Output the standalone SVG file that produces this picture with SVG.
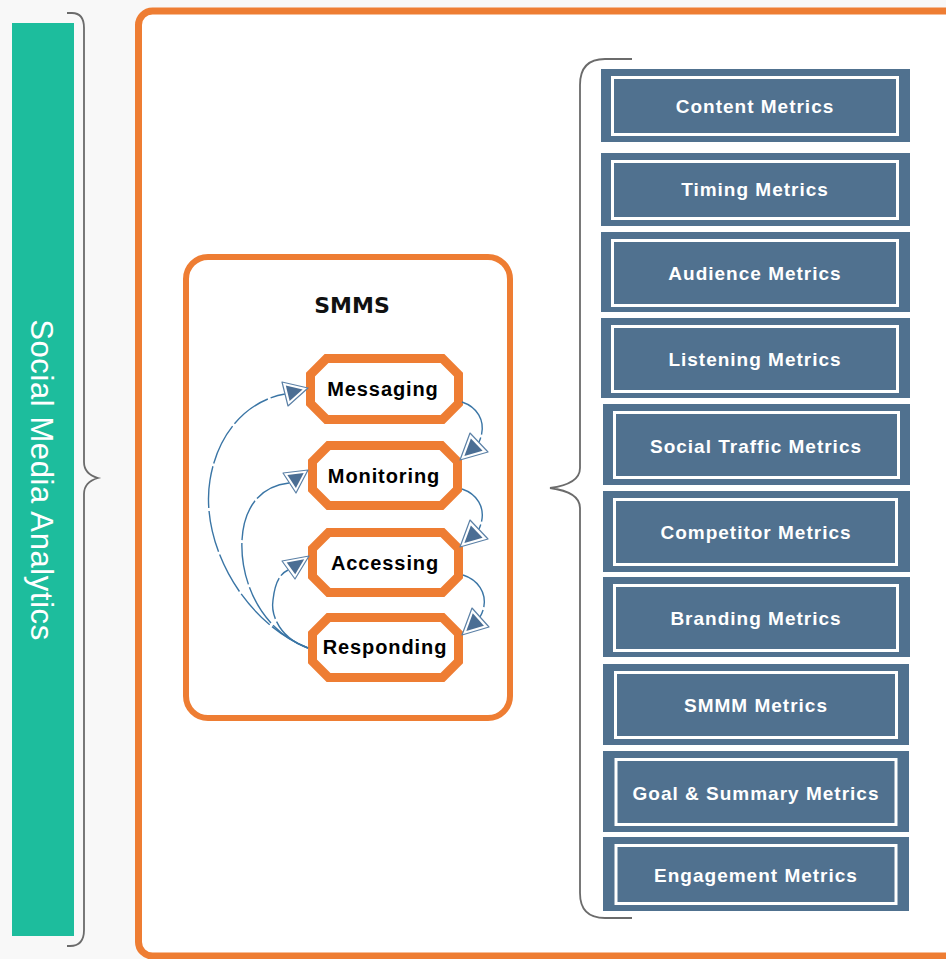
<svg xmlns="http://www.w3.org/2000/svg" width="946" height="959" viewBox="0 0 946 959">
<style>
.brace{fill:none;stroke:#6b6b6b;stroke-width:1.8}
.mout{fill:#50718f}
.min{fill:#50718f;stroke:#ffffff;stroke-width:3}
.mtxt{font-family:"Liberation Sans",Arial,sans-serif;font-size:19px;font-weight:bold;fill:#ffffff;text-anchor:middle;letter-spacing:1px}
.oct{fill:#ffffff;stroke:#ee7d33;stroke-width:9;stroke-linejoin:miter}
.otxt{font-family:"Liberation Sans",Arial,sans-serif;font-size:20px;font-weight:bold;fill:#000000;text-anchor:middle;letter-spacing:0.9px}
.conn{fill:none;stroke:#3a75a5;stroke-width:1.4;stroke-dasharray:42 3}
.ahO{fill:#ffffff;stroke:#5b80a6;stroke-width:1.2;stroke-linejoin:round}
.ahI{fill:#4b6e94}
</style>
<rect x="0" y="0" width="946" height="959" fill="#f8f8f8"/>

<g id="analytics">
<rect x="12" y="23" width="62" height="913" fill="#1dbd9d"/>
<text transform="translate(31,480) rotate(90)" text-anchor="middle" font-family="Liberation Sans, Arial, sans-serif" font-size="31" fill="#ffffff" letter-spacing="0.6">Social Media Analytics</text>
</g>

<g id="left-brace">
<path class="brace" d="M67,13 L72,13 Q84,13 84,28 L84,462 Q84,474 98,478 Q84,482 84,494 L84,930 Q84,946 70,946 L67,946"/>
</g>

<g id="main-frame">
<rect x="138.5" y="11" width="830" height="945" rx="14" ry="14" fill="#ffffff" stroke="#ee7d33" stroke-width="7"/>
</g>

<g id="smms">
<rect x="186" y="257" width="324" height="461" rx="22" ry="22" fill="#ffffff" stroke="#ee7d33" stroke-width="6"/>
<text x="352" y="313" text-anchor="middle" font-family="DejaVu Sans, sans-serif" font-size="22" font-weight="bold" fill="#111111">SMMS</text>
</g>

<g id="messaging">
<path class="oct" d="M326.5,358.5 L442.5,358.5 L458.5,374.5 L458.5,403.5 L442.5,419.5 L326.5,419.5 L310.5,403.5 L310.5,374.5 Z"/>
<text class="otxt" x="383" y="396">Messaging</text>
</g>
<g id="monitoring">
<path class="oct" d="M328.5,445.5 L441.5,445.5 L457.5,461.5 L457.5,489.5 L441.5,505.5 L328.5,505.5 L312.5,489.5 L312.5,461.5 Z"/>
<text class="otxt" x="384" y="483">Monitoring</text>
</g>
<g id="accessing">
<path class="oct" d="M328.5,532.5 L442.5,532.5 L458.5,548.5 L458.5,576.5 L442.5,592.5 L328.5,592.5 L312.5,576.5 L312.5,548.5 Z"/>
<text class="otxt" x="385" y="570">Accessing</text>
</g>
<g id="responding">
<path class="oct" d="M328.5,617.5 L442.5,617.5 L458.5,633.5 L458.5,661.5 L442.5,677.5 L328.5,677.5 L312.5,661.5 L312.5,633.5 Z"/>
<text class="otxt" x="385" y="654">Responding</text>
</g>

<g id="connectors">
<path class="conn" d="M462,402 C480,408 487,425 479,442"/>
<polygon class="ahO" points="460,460 470,433 488,452"/>
<polygon class="ahI" points="464.4,455.9 470.9,438.4 482.6,450.7"/>

<path class="conn" d="M462,489 C480,495 487,512 479,529"/>
<polygon class="ahO" points="460,547 470,520 488,539"/>
<polygon class="ahI" points="464.4,542.9 470.9,525.4 482.6,537.7"/>

<path class="conn" d="M463,575 C482,581 490,600 480,617"/>
<polygon class="ahO" points="462,635 472,608 489,627"/>
<polygon class="ahI" points="466.3,630.9 472.8,613.3 483.9,625.7"/>

<path class="conn" d="M308,648 C240,620 200,540 210,480 C218,430 250,400 285,394"/>
<polygon class="ahO" points="308,388 282,382 288,406"/>
<polygon class="ahI" points="302.6,389.4 285.8,385.5 289.6,401.1"/>

<path class="conn" d="M308,648 C260,630 240,580 242,540 C244,505 262,486 289,483"/>
<polygon class="ahO" points="308,470 283,473 296,493"/>
<polygon class="ahI" points="303.7,473 287.4,474.9 295.9,487.9"/>

<path class="conn" d="M308,648 C285,640 270,620 273,600 C275,582 280,574 288,570"/>
<polygon class="ahO" points="309,556 282,561 295,579"/>
<polygon class="ahI" points="304.2,559.3 286.7,562.5 295.2,574.2"/>
</g>

<g id="right-brace">
<path class="brace" d="M632,59 L605,59 Q580,59 580,85 L580,468 Q580,484 550,488 Q580,492 580,508 L580,893 Q580,918 605,918 L632,918"/>
</g>

<g id="content-metrics">
<rect class="mout" x="601" y="69" width="309" height="73"/>
<rect class="min" x="612.5" y="77.5" width="285" height="57"/>
<text class="mtxt" x="755" y="113">Content Metrics</text>
</g>
<g id="timing-metrics">
<rect class="mout" x="601" y="153" width="309" height="73"/>
<rect class="min" x="612.5" y="161.5" width="285" height="57"/>
<text class="mtxt" x="755" y="196">Timing Metrics</text>
</g>
<g id="audience-metrics">
<rect class="mout" x="601" y="232" width="309" height="80"/>
<rect class="min" x="612.5" y="240.5" width="285" height="65"/>
<text class="mtxt" x="755" y="280">Audience Metrics</text>
</g>
<g id="listening-metrics">
<rect class="mout" x="601" y="318" width="309" height="80"/>
<rect class="min" x="612.5" y="326.5" width="285" height="65"/>
<text class="mtxt" x="755" y="366">Listening Metrics</text>
</g>
<g id="social-traffic-metrics">
<rect class="mout" x="603" y="404" width="307" height="81"/>
<rect class="min" x="614.5" y="412.5" width="284" height="65"/>
<text class="mtxt" x="756" y="453">Social Traffic Metrics</text>
</g>
<g id="competitor-metrics">
<rect class="mout" x="603" y="491" width="307" height="81"/>
<rect class="min" x="614.5" y="499.5" width="282" height="65"/>
<text class="mtxt" x="756" y="539">Competitor Metrics</text>
</g>
<g id="branding-metrics">
<rect class="mout" x="603" y="577" width="307" height="80"/>
<rect class="min" x="614.5" y="585.5" width="283" height="65"/>
<text class="mtxt" x="756" y="625">Branding Metrics</text>
</g>
<g id="smmm-metrics">
<rect class="mout" x="603" y="664" width="306" height="81"/>
<rect class="min" x="615.5" y="672.5" width="281" height="65"/>
<text class="mtxt" x="756" y="712">SMMM Metrics</text>
</g>
<g id="goal-summary-metrics">
<rect class="mout" x="603" y="751" width="306" height="81"/>
<rect class="min" x="616" y="759.5" width="280" height="65"/>
<text class="mtxt" x="756" y="800">Goal &amp; Summary Metrics</text>
</g>
<g id="engagement-metrics">
<rect class="mout" x="603" y="837" width="306" height="74"/>
<rect class="min" x="616" y="845.5" width="280" height="58"/>
<text class="mtxt" x="756" y="882">Engagement Metrics</text>
</g>
</svg>
